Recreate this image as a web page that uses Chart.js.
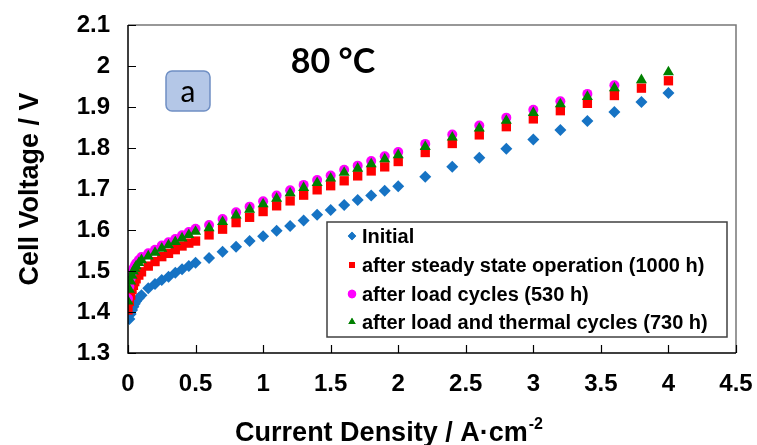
<!DOCTYPE html>
<html>
<head>
<meta charset="utf-8">
<script src="https://cdn.jsdelivr.net/npm/chart.js@4.4.1/dist/chart.umd.min.js"></script>
<style>
html,body{margin:0;padding:0;background:#fff;}
#c{display:block;}
</style>
</head>
<body>
<canvas id="c" width="757" height="445"></canvas>
<script>
// ---------- data ----------
const currentDensity = [0, 0.01, 0.02, 0.03, 0.04, 0.05, 0.06, 0.08, 0.1, 0.15, 0.2, 0.25, 0.3, 0.35, 0.4, 0.45, 0.5,
  0.6, 0.7, 0.8, 0.9, 1.0, 1.1, 1.2, 1.3, 1.4, 1.5, 1.6, 1.7, 1.8, 1.9, 2.0,
  2.2, 2.4, 2.6, 2.8, 3.0, 3.2, 3.4, 3.6, 3.8, 4.0];

const initialV = [null, 1.383, 1.395, 1.405, 1.413, 1.420, 1.426, 1.434, 1.441, 1.458, 1.468, 1.478, 1.486, 1.496, 1.504, 1.512, 1.520,
  1.532, 1.547, 1.559, 1.573, 1.585, 1.598, 1.610, 1.623, 1.637, 1.649, 1.661, 1.673, 1.684, 1.696, 1.707,
  1.730, 1.754, 1.776, 1.798, 1.821, 1.844, 1.866, 1.888, 1.912, 1.934];

const steadyStateV = [1.405, 1.426, 1.441, 1.455, 1.465, 1.474, 1.481, 1.490, 1.498, 1.512, 1.523, 1.535, 1.543, 1.552, 1.561, 1.568, 1.573,
  1.588, 1.602, 1.618, 1.631, 1.645, 1.659, 1.671, 1.685, 1.698, 1.708, 1.720, 1.732, 1.744, 1.754, 1.767,
  1.789, 1.811, 1.832, 1.852, 1.871, 1.891, 1.909, 1.928, 1.946, 1.964];

const loadCyclesV = [1.433, 1.462, 1.482, 1.496, 1.506, 1.513, 1.519, 1.527, 1.534, 1.543, 1.552, 1.562, 1.570, 1.578, 1.587, 1.595, 1.603,
  1.612, 1.627, 1.643, 1.657, 1.670, 1.684, 1.697, 1.710, 1.722, 1.733, 1.747, 1.757, 1.768, 1.780, 1.790,
  1.810, 1.833, 1.855, 1.874, 1.893, 1.914, 1.932, 1.953, null, null];

const thermalCyclesV = [1.426, 1.455, 1.475, 1.489, 1.499, 1.506, 1.512, 1.520, 1.527, 1.536, 1.545, 1.555, 1.563, 1.571, 1.580, 1.588, 1.596,
  1.605, 1.620, 1.636, 1.650, 1.663, 1.677, 1.690, 1.703, 1.715, 1.726, 1.740, 1.750, 1.761, 1.773, 1.783,
  1.803, 1.826, 1.848, 1.867, 1.886, 1.907, 1.925, 1.946, 1.966, 1.985];

const seriesNames = ['Initial', 'after steady state operation (1000 h)', 'after load cycles (530 h)', 'after load and thermal cycles (730 h)'];
const xTickLabels = ['0', '0.5', '1', '1.5', '2', '2.5', '3', '3.5', '4', '4.5'];
const yTickLabels = ['1.3', '1.4', '1.5', '1.6', '1.7', '1.8', '1.9', '2', '2.1'];

// ---------- styling ----------
const FONT = '"Liberation Sans", Arial, sans-serif';
const colors = ['#1673C4', '#FF0000', '#FF00FF', '#008000'];
const styles = ['rectRot', 'rect', 'circle', 'triangle'];
const radii = [6.0, 6.6, 5.0, 6.4];
const drawOrder = [3, 2, 1, 0];
const seriesValues = [initialV, steadyStateV, loadCyclesV, thermalCyclesV];

function toPoints(ys) {
  const pts = [];
  currentDensity.forEach((x, i) => { if (ys[i] != null) pts.push({ x: x, y: ys[i] }); });
  return pts;
}

const datasets = seriesNames.map((name, i) => ({
  label: name,
  data: toPoints(seriesValues[i]),
  showLine: false,
  pointStyle: styles[i],
  pointRadius: radii[i],
  pointHoverRadius: radii[i],
  pointBackgroundColor: colors[i],
  pointBorderColor: colors[i],
  pointBorderWidth: 0,
  order: drawOrder[i]
}));

const deco = {
  id: 'deco',
  afterDraw(chart) {
    const { ctx, chartArea: a, scales } = chart;
    const xs = scales.x, ys = scales.y;
    ctx.save();
    // frame
    ctx.lineWidth = 1.5;
    ctx.strokeStyle = '#777';
    ctx.beginPath();
    ctx.moveTo(a.left, a.top); ctx.lineTo(a.right, a.top); ctx.lineTo(a.right, a.bottom);
    ctx.stroke();
    ctx.strokeStyle = '#000';
    ctx.beginPath();
    ctx.moveTo(a.left, a.top); ctx.lineTo(a.left, a.bottom); ctx.lineTo(a.right, a.bottom);
    ctx.stroke();
    // inward ticks
    ctx.lineWidth = 1.2;
    ctx.beginPath();
    xs.ticks.forEach(t => {
      const p = Math.round(xs.getPixelForValue(t.value)) + 0.5;
      ctx.moveTo(p, a.bottom); ctx.lineTo(p, a.bottom - 8);
    });
    ys.ticks.forEach(t => {
      const p = Math.round(ys.getPixelForValue(t.value)) + 0.5;
      ctx.moveTo(a.left, p); ctx.lineTo(a.left + 8, p);
    });
    ctx.stroke();

    // x title with superscript
    ctx.fillStyle = '#000';
    ctx.textBaseline = 'alphabetic';
    const mainTxt = 'Current Density / A\u00B7cm';
    const supTxt = '-2';
    ctx.font = 'bold 27px ' + FONT;
    const wMain = ctx.measureText(mainTxt).width;
    ctx.font = 'bold 16px ' + FONT;
    const wSup = ctx.measureText(supTxt).width;
    const total = wMain + wSup + 1;
    const cx = 389;
    const startX = cx - total / 2;
    const baseY = 441;
    ctx.font = 'bold 27px ' + FONT;
    ctx.textAlign = 'left';
    ctx.fillText(mainTxt, startX, baseY);
    ctx.font = 'bold 16px ' + FONT;
    ctx.fillText(supTxt, startX + wMain + 1, baseY - 12);

    // temperature label
    ctx.font = 'bold 34px Lato, "Open Sans", sans-serif';
    ctx.textAlign = 'center';
    ctx.textBaseline = 'middle';
    ctx.fillText('80 \u00B0C', 333, 62);

    // "a" panel label
    const bx = 166, by = 71, bw = 44, bh = 40, r = 6;
    ctx.beginPath();
    ctx.roundRect(bx, by, bw, bh, r);
    ctx.fillStyle = '#B4C7E7';
    ctx.fill();
    ctx.lineWidth = 1.5;
    ctx.strokeStyle = '#6F8FC4';
    ctx.stroke();
    ctx.fillStyle = '#000';
    ctx.font = '30px Lato, "Open Sans", sans-serif';
    ctx.fillText('a', bx + bw / 2, by + bh / 2 + 1);

    // legend
    const lx = 327, ly = 222, lw = 400, lh = 115;
    ctx.fillStyle = '#fff';
    ctx.fillRect(lx, ly, lw, lh);
    ctx.lineWidth = 1.5;
    ctx.strokeStyle = '#404040';
    ctx.strokeRect(lx, ly, lw, lh);
    const rows = [236, 265, 294, 322];
    ctx.font = 'bold 20px ' + FONT;
    ctx.textAlign = 'left';
    ctx.textBaseline = 'middle';
    seriesNames.forEach((name, i) => {
      ctx.fillStyle = colors[i];
      Chart.helpers.drawPoint(ctx, { pointStyle: styles[i], radius: 4.2, borderWidth: 0 }, 352, rows[i]);
      ctx.fill();
      ctx.fillStyle = '#000';
      ctx.fillText(name, 362, rows[i] + 1);
    });
    ctx.restore();
  }
};

new Chart(document.getElementById('c').getContext('2d'), {
  type: 'scatter',
  data: { datasets: datasets },
  options: {
    responsive: false,
    animation: false,
    events: [],
    layout: { padding: { top: 25, right: 21, left: 0, bottom: 0 } },
    plugins: { legend: { display: false }, tooltip: { enabled: false } },
    scales: {
      x: {
        type: 'linear', min: 0, max: 4.5,
        grid: { display: false, drawTicks: false },
        border: { display: false },
        ticks: {
          stepSize: 0.5, autoSkip: false, maxRotation: 0, padding: 17,
          color: '#000', font: { family: FONT, size: 24, weight: 'bold' },
          callback: (v, i) => xTickLabels[i]
        },
        afterFit: s => { s.height = 92; s.paddingLeft = 0; s.paddingRight = 0; }
      },
      y: {
        type: 'linear', min: 1.3, max: 2.1,
        grid: { display: false, drawTicks: false },
        border: { display: false },
        ticks: {
          stepSize: 0.1, autoSkip: false, padding: 18,
          color: '#000', font: { family: FONT, size: 24, weight: 'bold' },
          callback: (v, i) => yTickLabels[i]
        },
        title: {
          display: true, text: 'Cell Voltage / V', color: '#000',
          font: { family: FONT, size: 27, weight: 'bold', lineHeight: 1.2 },
          padding: { top: 14, bottom: 0 }
        },
        afterFit: s => { s.width = 128; s.paddingTop = 0; s.paddingBottom = 0; }
      }
    }
  },
  plugins: [deco]
});
</script>
</body>
</html>
